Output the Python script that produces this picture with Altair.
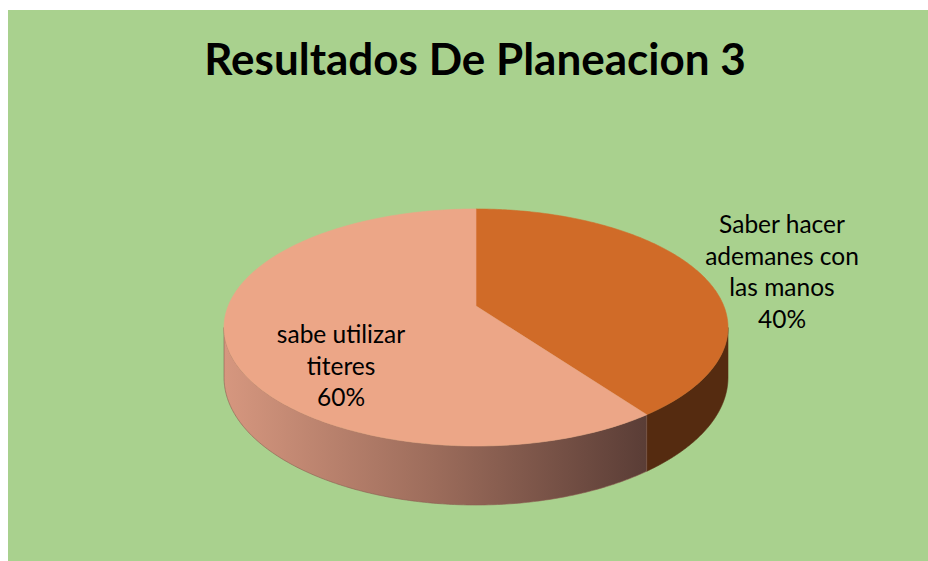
import numpy as np
import pandas as pd
import altair as alt

# ---- data ----
categories = ["Saber hacer ademanes con las manos", "sabe utilizar titeres"]
label_lines = [["Saber hacer", "ademanes con", "las manos"], ["sabe utilizar", "titeres"]]
values = [40, 60]
title_text = "Resultados De Planeacion 3"

# ---- styles / layout ----
top_colors = ["#D06B28", "#ECA687"]
wall_colors = ["#552B10", None]
wall_grad = alt.Gradient(
    gradient="linear", x1=0, x2=1, y1=0, y2=0,
    stops=[alt.GradientStop(color="#D6977F", offset=0),
           alt.GradientStop(color="#9C6C5B", offset=0.5),
           alt.GradientStop(color="#5A3D36", offset=1)])
W, H = 928, 561
PADL, PADT = 8, 10
cx, s, r, q, p, t = 476.0, 306.0, 59.1, -0.1814, 247.8, 48.3
label_pos = [(782, 233), (341, 343)]
LINE_H = 31.7


def proj(theta_deg, drop=0.0):
    th = np.radians(theta_deg)
    u, v = np.sin(th), -np.cos(th)
    den = 1 + q * v
    return cx + p * u / den, (r * v + s + drop) / den


theta_R = np.degrees(np.arccos(-0.1814))
theta_L = 360 - theta_R

rows = []
total = sum(values)
start = 0.0
for k, val in enumerate(values):
    end = start + 360.0 * val / total
    # top face
    pts = [(cx, s)]
    for th in np.linspace(start, end, 200):
        pts.append(proj(th))
    pts.append((cx, s))
    for i, (x, y) in enumerate(pts):
        rows.append({"part": f"top{k}", "i": i, "x": x, "y": y})
    # visible side wall
    a, b = max(start, theta_R), min(end, theta_L)
    if a < b:
        ths = np.linspace(a, b, 200)
        wpts = [proj(th) for th in ths] + [proj(th, t) for th in ths[::-1]]
        for i, (x, y) in enumerate(wpts):
            rows.append({"part": f"wall{k}", "i": i, "x": x, "y": y})
    start = end

df = pd.DataFrame(rows)

xs = alt.Scale(domain=[PADL, W], nice=False, zero=False)
ys = alt.Scale(domain=[PADT, H], nice=False, zero=False, reverse=True)


def poly(part, fill):
    return alt.Chart(df).transform_filter(alt.datum.part == part).mark_line(
        fill=fill, stroke=fill if isinstance(fill, str) else "#8A5E50",
        strokeWidth=0.6, interpolate="linear-closed"
    ).encode(
        x=alt.X("x:Q", scale=xs, axis=None),
        y=alt.Y("y:Q", scale=ys, axis=None),
        order="i:Q",
    )

layers = [
    poly("wall0", wall_colors[0]),
    poly("wall1", wall_grad),
    poly("top0", top_colors[0]),
    poly("top1", top_colors[1]),
]

lab_rows = []
for k, val in enumerate(values):
    lines = label_lines[k] + [f"{round(100 * val / total)}%"]
    for j, ln in enumerate(lines):
        lab_rows.append({"x": label_pos[k][0], "y": label_pos[k][1] + j * LINE_H,
                         "txt": ln, "cat": categories[k]})
lab_df = pd.DataFrame(lab_rows)

labels = alt.Chart(lab_df).mark_text(
    font="Lato", fontSize=24.5, color="#000000", align="center", baseline="alphabetic"
).encode(x=alt.X("x:Q", scale=xs), y=alt.Y("y:Q", scale=ys), text="txt:N")

title = alt.Chart(pd.DataFrame({"x": [475], "y": [75], "txt": [title_text]})).mark_text(
    font="Lato", fontSize=44, fontWeight="bold", color="#000000",
    align="center", baseline="alphabetic"
).encode(x=alt.X("x:Q", scale=xs), y=alt.Y("y:Q", scale=ys), text="txt:N")

chart = alt.layer(*layers, labels, title).properties(
    width=W - PADL, height=H - PADT,
    autosize=alt.AutoSizeParams(type="none"),
    padding={"left": PADL, "top": PADT, "right": 0, "bottom": 0},
    background="#FFFFFF",
).configure_view(fill="#A9D18E", stroke=None)

chart.save("out.html", embed_options={"renderer": "svg", "actions": False})
